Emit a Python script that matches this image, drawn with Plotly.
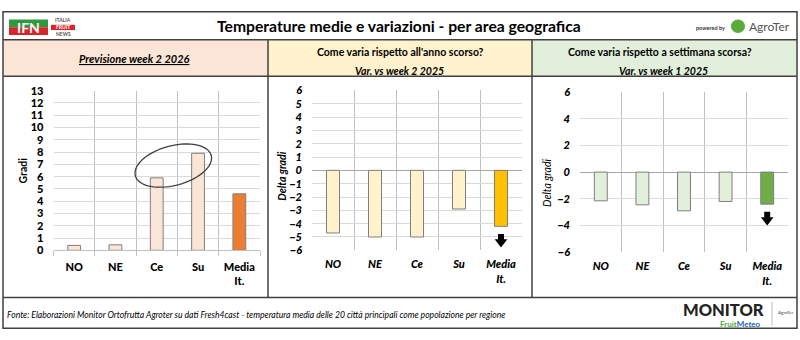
import numpy as np
import plotly.graph_objects as go

# ---------------- data ----------------
categories = ["NO", "NE", "Ce", "Su", "Media<br>It."]
forecast_week2_2026 = [0.4, 0.45, 5.9, 7.9, 4.6]
var_vs_week2_2025 = [-4.7, -5.0, -5.0, -2.9, -4.2]
var_vs_week1_2025 = [-2.15, -2.45, -2.9, -2.2, -2.4]

title = "Temperature medie e variazioni - per area geografica"
panel1_title = "Previsione week 2 2026"
panel2_title = "Come varia rispetto all'anno scorso?"
panel2_sub = "Var. vs week 2 2025"
panel3_title = "Come varia rispetto a settimana scorsa?"
panel3_sub = "Var. vs week 1 2025"
footer = ("Fonte: Elaborazioni Monitor Ortofrutta Agroter su dati Fresh4cast - "
          "temperatura media delle 20 città principali come popolazione per regione")

W, H = 800, 340
FONT = "Lato"


def X(px):
    return px / W


def Y(py):
    return 1 - py / H


light = ["#FBE5D6", "#FFF2CC", "#E2EFDA"]
dark = ["#ED7D31", "#FFC000", "#70AD47"]
series = [forecast_week2_2026, var_vs_week2_2025, var_vs_week1_2025]

# plot areas (pixels): left, right, top, bottom
areas = [(53.5, 260, 87, 253), (312, 522, 86.7, 253), (580, 788, 88.3, 255)]

fig = go.Figure()
for i, vals in enumerate(series):
    n = len(categories)
    colors = [light[i]] * (n - 1) + [dark[i]]
    fig.add_trace(go.Bar(
        x=categories, y=vals, width=0.31,
        marker=dict(color=colors, line=dict(color="#7F7F7F", width=1)),
        xaxis="x" if i == 0 else f"x{i+1}",
        yaxis="y" if i == 0 else f"y{i+1}",
        showlegend=False, hoverinfo="skip",
    ))

# down arrows (stem + head) under the Italian average bar
for i in (1, 2):
    sfx = str(i + 1)
    v = series[i][-1]
    fig.add_trace(go.Scatter(
        x=[categories[-1], categories[-1]], y=[v - 0.8, v - 1.18],
        mode="markers",
        marker=dict(symbol=["square", "triangle-down"], size=[6, 11],
                    color="#000000", opacity=1, line=dict(width=0)),
        xaxis=f"x{sfx}", yaxis=f"y{sfx}", showlegend=False, hoverinfo="skip",
    ))

layout = dict(
    width=W, height=H, margin=dict(l=0, r=0, t=0, b=0),
    paper_bgcolor="white", plot_bgcolor="white",
    font=dict(family=FONT, color="#000000"),
    bargap=0.2,
)

for i, (l, r, t, b) in enumerate(areas):
    sfx = "" if i == 0 else str(i + 1)
    italic = "normal" if i == 0 else "italic"
    layout[f"xaxis{sfx}"] = dict(
        domain=[X(l), X(r)], anchor=f"y{sfx}", type="category",
        tickson="boundaries", showgrid=True, gridcolor="#BFBFBF", gridwidth=1,
        ticks="outside" if i == 0 else "", ticklen=5, tickcolor="#BFBFBF",
        showline=(i == 0), linecolor="#BFBFBF",
        tickfont=dict(size=11, weight=900, style=italic),
        ticklabelstandoff=6, zeroline=False, fixedrange=True,
    )
    if i == 0:
        yr, dt = [0, 13], 1
    elif i == 1:
        yr, dt = [-6, 6], 1
    else:
        yr, dt = [-6, 6], 2
    layout[f"yaxis{sfx}"] = dict(
        domain=[Y(b), Y(t)], anchor=f"x{sfx}", range=yr, dtick=dt,
        showgrid=True, gridcolor="#D9D9D9", gridwidth=1,
        zeroline=(i != 0), zerolinecolor="#A6A6A6", zerolinewidth=1,
        tickfont=dict(size=11, weight=900, style=italic),
        ticks="", ticklabelstandoff=9, fixedrange=True,
    )

fig.update_layout(**layout)

# ---------------- frame & header backgrounds ----------------
line_col = "#404040"
shapes = []
bgs = [(3, 268), (268, 532), (532, 797)]
for i, (a, c) in enumerate(bgs):
    shapes.append(dict(type="rect", xref="paper", yref="paper", x0=X(a), x1=X(c),
                       y0=Y(72), y1=Y(34), fillcolor=light[i], line=dict(width=0),
                       layer="below"))
shapes.append(dict(type="rect", xref="paper", yref="paper", x0=X(3), x1=X(797),
                   y0=Y(334), y1=Y(5), line=dict(color=line_col, width=1.5)))
for py in (34, 72, 302):
    shapes.append(dict(type="line", xref="paper", yref="paper", x0=X(3), x1=X(797),
                       y0=Y(py), y1=Y(py), line=dict(color=line_col, width=1.5)))
for px in (268, 532):
    shapes.append(dict(type="line", xref="paper", yref="paper", x0=X(px), x1=X(px),
                       y0=Y(302), y1=Y(34), line=dict(color=line_col, width=1.5)))

# ellipse highlighting Ce and Su (pixel geometry converted to data units)
l, r, t, b = areas[0]
px_per_cat = (r - l) / len(categories)
px_per_deg = (b - t) / 13.0
i_ce, i_su = categories.index("Ce"), categories.index("Su")
cx = (i_ce + i_su) / 2 - 0.1
cy = (forecast_week2_2026[i_ce] + forecast_week2_2026[i_su]) / 2
th = np.linspace(0, 2 * np.pi, 73)
ang = np.deg2rad(16)
ex = 39.4 * np.cos(th) * np.cos(ang) - 20.5 * np.sin(th) * np.sin(ang)
ey = 39.4 * np.cos(th) * np.sin(ang) + 20.5 * np.sin(th) * np.cos(ang)
pts = [(cx + dx / px_per_cat, cy + dy / px_per_deg) for dx, dy in zip(ex, ey)]
path = "M " + " L ".join(f"{a:.4f},{c:.4f}" for a, c in pts) + " Z"
shapes.append(dict(type="path", xref="x", yref="y", path=path,
                   line=dict(color="#404040", width=1.3)))

# IFN logo
shapes.append(dict(type="rect", xref="paper", yref="paper", x0=X(9), x1=X(48),
                   y0=Y(21), y1=Y(13), fillcolor="#2E9A3E", line=dict(width=0)))
shapes.append(dict(type="rect", xref="paper", yref="paper", x0=X(9), x1=X(48),
                   y0=Y(29), y1=Y(21), fillcolor="#D7262B", line=dict(width=0)))
shapes.append(dict(type="rect", xref="paper", yref="paper", x0=X(51), x1=X(75),
                   y0=Y(24), y1=Y(18.5), fillcolor="#D7262B", line=dict(width=0)))
# AgroTer logo circle
shapes.append(dict(type="circle", xref="paper", yref="paper", x0=X(731), x1=X(745),
                   y0=Y(27), y1=Y(13), fillcolor="#5BAA3C", line=dict(width=0)))
# small AgroTer box in footer logo
shapes.append(dict(type="line", xref="paper", yref="paper", x0=X(772), x1=X(772),
                   y0=Y(331), y1=Y(307), line=dict(color="#BBBBBB", width=1)))
fig.update_layout(shapes=shapes)

# ---------------- texts ----------------
ann = []


def txt(x, y, s, size, weight="normal", style="normal", color="#000000",
        xanchor="center", angle=0, **kw):
    ann.append(dict(x=X(x), y=Y(y), xref="paper", yref="paper", text=s,
                    showarrow=False, xanchor=xanchor, yanchor="middle",
                    textangle=angle,
                    font=dict(family=FONT, size=size, weight=weight, style=style,
                              color=color, **kw)))


txt(399, 19.5, title, 15.7, weight="bold")
txt(134, 54, panel1_title, 11, weight="bold", style="italic", lineposition="under")
txt(400, 47, panel2_title, 10.5, weight="bold")
txt(399, 66.5, panel2_sub, 10.5, weight="bold", style="italic")
txt(660, 47, panel3_title, 10.5, weight="bold")
txt(663, 66.5, panel3_sub, 10.5, weight="bold", style="italic")

txt(22, 170, "Gradi", 10.5, weight="bold", angle=-90)
txt(282, 176.5, "Delta gradi", 10.5, weight="bold", style="italic", angle=-90)
txt(547, 183, "Delta gradi", 10.5, style="italic", angle=-90)

txt(5, 320, footer, 8.6, style="italic", xanchor="left")

# logos as text
txt(28.5, 21, "IFN", 14, weight="bold", color="white")
txt(63, 13.5, "ITALIA", 5, weight="bold", color="#555555")
txt(63, 21.2, "FRUIT", 5, weight="bold", color="white")
txt(63, 28, "NEWS", 5, weight="bold", color="#555555")
txt(710, 22, "powered by", 5.5, weight="bold", color="#333333")
txt(747, 20, "AgroTer", 12, color="#555555", xanchor="left")
txt(723, 315.5, "MONITOR", 16.5, weight=900, color="#222222")
txt(740, 330, "Fruit<span style='color:#1F5FAF'>Meteo</span>", 8,
    weight="bold", color="#4CAF32")
txt(785, 318, "AgroTer", 4.5, color="#444444")

fig.update_layout(annotations=ann)
fig.write_html("out.html")
